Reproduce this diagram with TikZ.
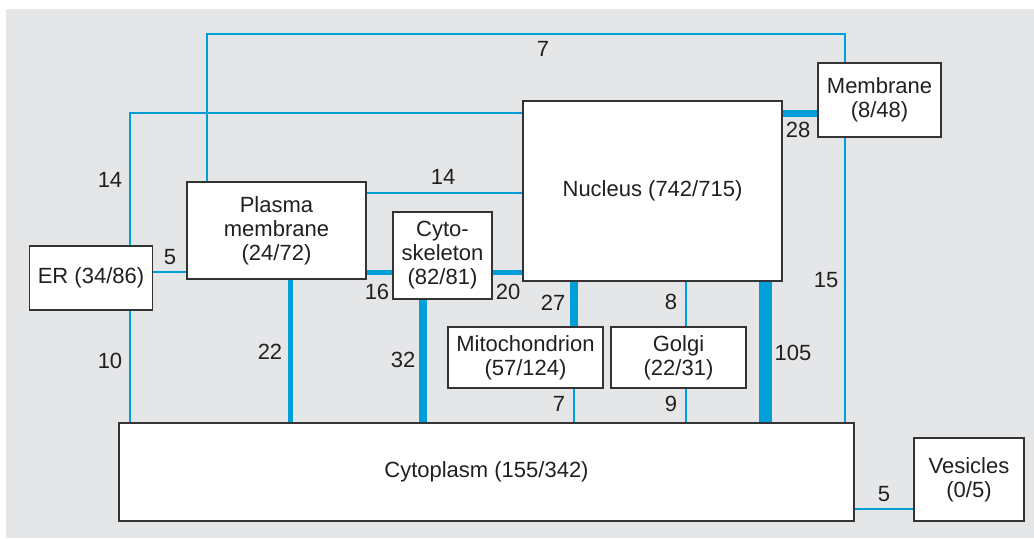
\documentclass[tikz,border=0pt]{standalone}
\usepackage{fontspec}
\setmainfont{Liberation Sans}
\usetikzlibrary{calc}
\definecolor{bl}{RGB}{0,159,218}
\definecolor{bggray}{RGB}{229,230,232}
\definecolor{boxc}{RGB}{51,51,51}
\definecolor{txt}{RGB}{35,31,32}
\newcommand{\labfont}{\fontsize{11}{12}\selectfont}
\pgfdeclarelayer{bglayer}
\pgfdeclarelayer{linklayer}
\pgfsetlayers{bglayer,linklayer,main}
\tikzset{
  box/.style={draw=boxc, fill=white, line width=0.75pt, inner sep=0pt, align=center, font=\labfont, text=txt},
  link/.style={draw=bl, line width=1pt},
  lbl/.style={font=\labfont, text=txt, inner sep=0pt}
}
\begin{document}
\begin{tikzpicture}[x=0.5pt,y=-0.5pt]
\useasboundingbox (0,0) rectangle (1034,538);
\begin{pgfonlayer}{bglayer}
\fill[bggray] (6,9) rectangle (1034,538);
\end{pgfonlayer}
% boxes
\node[box, minimum width=61.5pt, minimum height=32pt] (er) at (91,278) {ER (34/86)};
\node[box, minimum width=89.5pt, minimum height=48.5pt] (pm) at (276.5,230.5) {Plasma\\membrane\\(24/72)};
\node[box, minimum width=49.5pt, minimum height=43.5pt] (cs) at (442.5,255.5) {Cyto-\\skeleton\\(82/81)};
\node[box, minimum width=129.5pt, minimum height=90pt] (nu) at (652.5,191) {Nucleus (742/715)};
\node[box, minimum width=61.5pt, minimum height=37pt] (me) at (879.5,100) {Membrane\\(8/48)};
\node[box, minimum width=77.5pt, minimum height=30.5pt] (mi) at (525.5,357.5) {Mitochondrion\\(57/124)};
\node[box, minimum width=67.5pt, minimum height=30.5pt] (go) at (678.5,357.5) {Golgi\\(22/31)};
\node[box, minimum width=367.5pt, minimum height=49pt] (cy) at (486.5,472) {Cytoplasm (155/342)};
\node[box, minimum width=55pt, minimum height=41.5pt] (ve) at (969,479.5) {Vesicles\\(0/5)};
% helper coordinates
\coordinate (ta) at (207,34);
\coordinate (tb) at (845,34);
\coordinate (p14) at (130,113);
\coordinate (h14) at (0,193);
\coordinate (hq) at (0,272);
\coordinate (x22) at (290,0);
\coordinate (x32) at (423,0);
\coordinate (x27) at (574,0);
\coordinate (x8) at (685.5,0);
\coordinate (x105) at (765.5,0);
\coordinate (hv) at (0,509);
\begin{pgfonlayer}{linklayer}
\draw[link] (pm.north -| ta) -- (ta) -- (tb) -- (me.north -| tb);
\draw[link] (me.south -| tb) -- (cy.north -| tb);
\draw[link] (er.north -| p14) -- (p14) -- (nu.west |- p14);
\draw[link] (er.south -| p14) -- (cy.north -| p14);
\draw[link, line width=3.5pt] (nu.east |- p14) -- (me.west |- p14);
\draw[link] (pm.east |- h14) -- (nu.west |- h14);
\draw[link] (er.east |- hq) -- (pm.west |- hq);
\draw[link, line width=2.5pt] (pm.east |- hq) -- (cs.west |- hq);
\draw[link, line width=2.5pt] (cs.east |- hq) -- (nu.west |- hq);
\draw[link, line width=2.5pt] (pm.south -| x22) -- (cy.north -| x22);
\draw[link, line width=4pt] (cs.south -| x32) -- (cy.north -| x32);
\draw[link, line width=3.75pt] (nu.south -| x27) -- (mi.north -| x27);
\draw[link] (mi.south -| x27) -- (cy.north -| x27);
\draw[link] (nu.south -| x8) -- (go.north -| x8);
\draw[link] (go.south -| x8) -- (cy.north -| x8);
\draw[link, line width=6.5pt] (nu.south -| x105) -- (cy.north -| x105);
\draw[link] (cy.east |- hv) -- (ve.west |- hv);
\end{pgfonlayer}
% labels
\node[lbl] (l7t) at (543,49) {7};
\node[lbl] (l14a) at (110,180) {14};
\node[lbl] (l14b) at (443,177) {14};
\node[lbl] (l5a) at (170,257) {5};
\node[lbl] (l10) at (110,361) {10};
\node[lbl] (l16) at (377,292) {16};
\node[lbl] (l20) at (508,292) {20};
\node[lbl] (l22) at (270,352) {22};
\node[lbl] (l32) at (403,360) {32};
\node[lbl] (l27) at (553,303) {27};
\node[lbl] (l8) at (671,302) {8};
\node[lbl] (l7b) at (559,404) {7};
\node[lbl] (l9) at (671,404) {9};
\node[lbl] (l105) at (793,353) {105};
\node[lbl] (l15) at (826,280) {15};
\node[lbl] (l28) at (798,130) {28};
\node[lbl] (l5b) at (884,494) {5};
\end{tikzpicture}
\end{document}
